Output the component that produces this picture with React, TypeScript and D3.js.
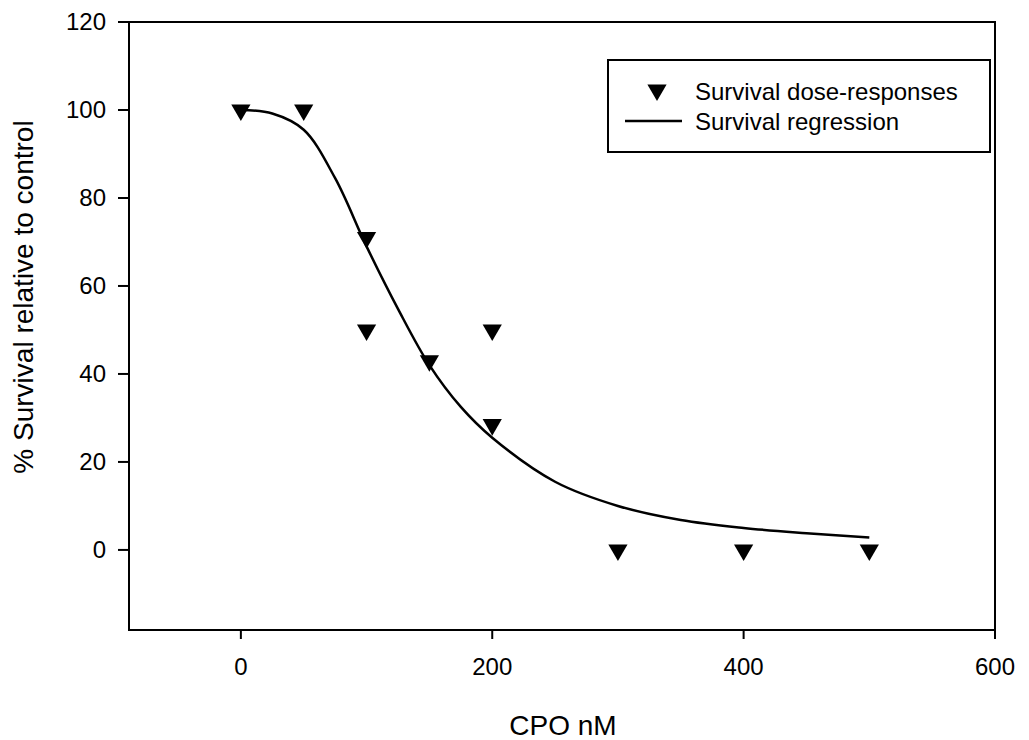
import React from "react";
import * as d3 from "d3";

// Observed data points (CPO nM, % survival)
const doseX = [0, 50, 100, 100, 150, 200, 200, 300, 400, 500];
const survivalY = [100, 100, 71, 50, 43, 50, 28.5, 0, 0, 0];

// Regression curve
const curveX = [0, 25, 50, 75, 100, 125, 150, 175, 200, 250, 300, 350, 400, 450, 500];
const curveY = [100, 99.2, 95.5, 84.5, 69, 54.8, 42, 32.5, 25.5, 15.5, 10, 6.8, 5, 3.8, 2.8];

const xTicks = [0, 200, 400, 600];
const yTicks = [0, 20, 40, 60, 80, 100, 120];

const legendLabels = ["Survival dose-responses", "Survival regression"];

const W = 1029;
const H = 740;
const left = 129;
const right = 995;
const top = 22;
const bottom = 630;
const font = "'Liberation Sans', Arial, sans-serif";

export default function App() {
  const x = d3.scaleLinear().domain([-89, 600]).range([left, right]);
  const y = d3.scaleLinear().domain([-18.2, 120]).range([bottom, top]);

  const line = d3
    .line<number>()
    .x((_, i) => x(curveX[i]))
    .y((d) => y(d))
    .curve(d3.curveCatmullRom.alpha(0.5));

  const tri = d3.symbol().type(d3.symbolTriangle).size(160)() as string;

  return (
    <svg width={W} height={H} style={{ position: "absolute", left: 0, top: 0, background: "#fff" }}>
      <rect x={0} y={0} width={W} height={H} fill="#fff" />
      {/* frame */}
      <rect x={left} y={top} width={right - left} height={bottom - top} fill="none" stroke="#000" strokeWidth={2} />
      {/* y ticks */}
      {yTicks.map((t) => (
        <g key={"y" + t}>
          <line x1={left - 11} x2={left} y1={y(t)} y2={y(t)} stroke="#000" strokeWidth={2} />
          <text x={106} y={y(t)} dy="0.35em" textAnchor="end" fontFamily={font} fontSize={24} fill="#000">
            {t}
          </text>
        </g>
      ))}
      {/* x ticks */}
      {xTicks.map((t) => (
        <g key={"x" + t}>
          <line x1={x(t)} x2={x(t)} y1={bottom} y2={bottom + 9} stroke="#000" strokeWidth={2} />
          <text x={x(t)} y={675} textAnchor="middle" fontFamily={font} fontSize={24} fill="#000">
            {t}
          </text>
        </g>
      ))}
      {/* axis titles */}
      <text x={563} y={735} textAnchor="middle" fontFamily={font} fontSize={28} fill="#000">
        CPO nM
      </text>
      <text
        transform="translate(33,297) rotate(-90)"
        textAnchor="middle"
        fontFamily={font}
        fontSize={28}
        fill="#000"
      >
        % Survival relative to control
      </text>
      {/* regression */}
      <path d={line(curveY) as string} fill="none" stroke="#000" strokeWidth={2.5} />
      {/* points */}
      {doseX.map((d, i) => (
        <path key={"p" + i} d={tri} transform={`translate(${x(d)},${y(survivalY[i])}) rotate(180)`} fill="#000" />
      ))}
      {/* legend */}
      <rect x={608} y={60} width={382} height={92} fill="#fff" stroke="#000" strokeWidth={2} />
      <path d={tri} transform="translate(657,90) rotate(180)" fill="#000" />
      <line x1={625} x2={682} y1={121} y2={121} stroke="#000" strokeWidth={2.5} />
      {legendLabels.map((l, i) => (
        <text key={l} x={695} y={92 + i * 30} dy="0.35em" fontFamily={font} fontSize={24} fill="#000">
          {l}
        </text>
      ))}
    </svg>
  );
}
